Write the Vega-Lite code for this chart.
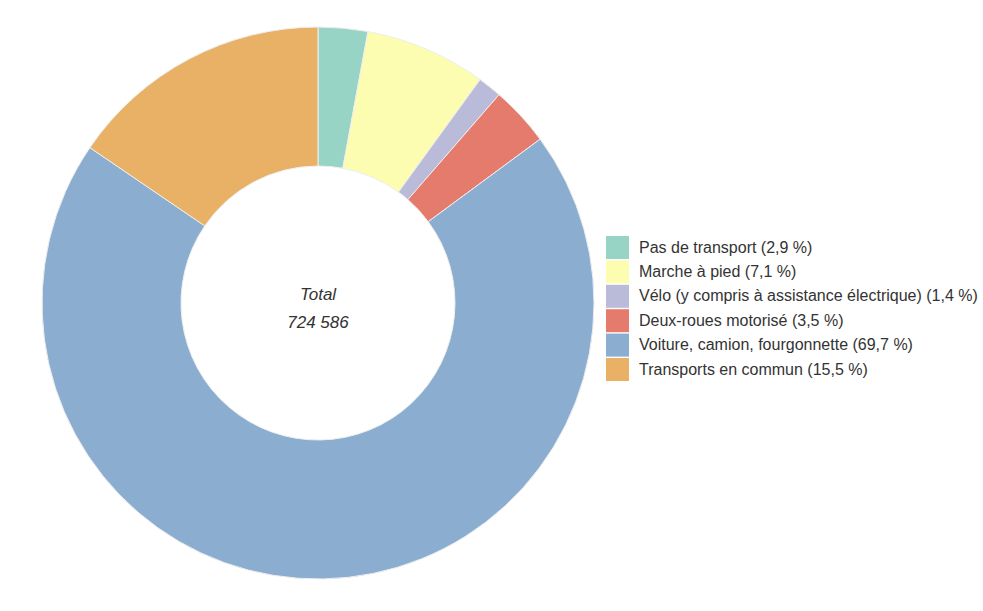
{
  "$schema": "https://vega.github.io/schema/vega-lite/v6.json",
  "width": 636,
  "height": 606,
  "padding": 0,
  "autosize": {"type": "pad"},
  "background": "white",
  "config": {"view": {"stroke": null}, "font": "Liberation Sans"},
  "layer": [
    {
      "data": {
        "values": [
          {"mode": "Pas de transport (2,9 %)", "pct": 2.9, "ordre": 1},
          {"mode": "Marche à pied (7,1 %)", "pct": 7.1, "ordre": 2},
          {"mode": "Vélo (y compris à assistance électrique) (1,4 %)", "pct": 1.4, "ordre": 3},
          {"mode": "Deux-roues motorisé (3,5 %)", "pct": 3.5, "ordre": 4},
          {"mode": "Voiture, camion, fourgonnette (69,7 %)", "pct": 69.7, "ordre": 5},
          {"mode": "Transports en commun (15,5 %)", "pct": 15.5, "ordre": 6}
        ]
      },
      "mark": {"type": "arc", "outerRadius": 276, "innerRadius": 137, "stroke": "#eeeeee", "strokeWidth": 1},
      "encoding": {
        "theta": {"field": "pct", "type": "quantitative", "stack": true},
        "order": {"field": "ordre", "type": "quantitative"},
        "color": {
          "field": "mode",
          "type": "nominal",
          "scale": {
            "domain": [
              "Pas de transport (2,9 %)",
              "Marche à pied (7,1 %)",
              "Vélo (y compris à assistance électrique) (1,4 %)",
              "Deux-roues motorisé (3,5 %)",
              "Voiture, camion, fourgonnette (69,7 %)",
              "Transports en commun (15,5 %)"
            ],
            "range": ["#98d4c6", "#fdfdb2", "#babad9", "#e57b6d", "#8badd0", "#e9b166"]
          },
          "legend": {
            "title": null,
            "orient": "none",
            "legendX": 606,
            "legendY": 236,
            "symbolType": "square",
            "symbolSize": 529,
            "symbolStrokeWidth": 0,
            "labelFontSize": 16,
            "labelColor": "#333333",
            "labelOffset": 10,
            "rowPadding": 1.4,
            "labelLimit": 400,
            "padding": 0
          }
        }
      }
    },
    {
      "data": {"values": [{"label": "Total\n724 586"}]},
      "mark": {"type": "text", "fontStyle": "italic", "fontSize": 17, "color": "#333333", "lineBreak": "\n", "lineHeight": 28, "dy": -8},
      "encoding": {"text": {"field": "label", "type": "nominal"}}
    }
  ]
}
